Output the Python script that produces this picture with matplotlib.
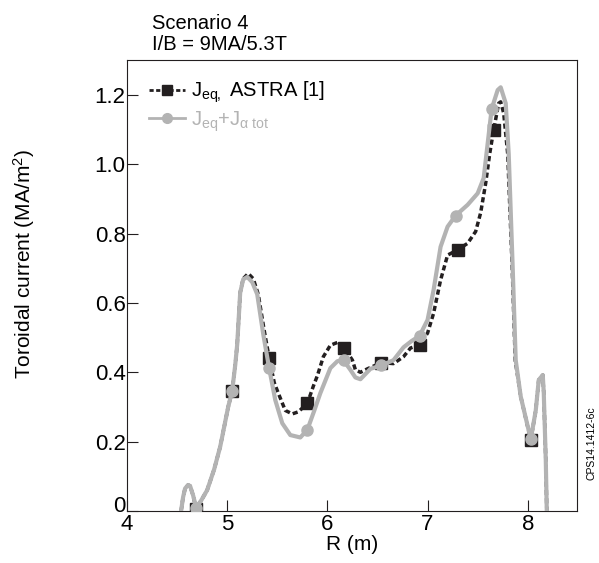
import numpy as np
import matplotlib
matplotlib.use('Agg')
import matplotlib.pyplot as plt
import matplotlib.transforms as mtransforms
from matplotlib.lines import Line2D

plt.rcParams['font.family'] = ['Liberation Sans', 'DejaVu Sans']
plt.rcParams['mathtext.fontset'] = 'custom'
plt.rcParams['mathtext.rm'] = 'Liberation Sans'
plt.rcParams['mathtext.it'] = 'Liberation Sans'
plt.rcParams['mathtext.bf'] = 'Liberation Sans:bold'

# J_eq, ASTRA [1]  (черная штриховая)
r_eq = [4.54, 4.56, 4.58, 4.61, 4.63, 4.66, 4.69, 4.74, 4.80, 4.87, 4.93, 5.01, 5.05,
        5.08, 5.10, 5.13, 5.16, 5.21, 5.26, 5.31, 5.37, 5.42, 5.47, 5.51, 5.58, 5.65,
        5.71, 5.80, 5.86, 5.90, 5.96, 6.03, 6.10, 6.17, 6.25, 6.28, 6.33, 6.40, 6.54,
        6.66, 6.76, 6.83, 6.92, 7.00, 7.06, 7.13, 7.20, 7.30, 7.40, 7.48, 7.53, 7.58,
        7.62, 7.66, 7.71, 7.73, 7.76, 7.80, 7.845, 7.875, 7.93, 8.03, 8.08, 8.11, 8.15,
        8.16, 8.18, 8.19]
j_eq = [0.0, 0.04, 0.065, 0.075, 0.072, 0.045, 0.005, 0.03, 0.06, 0.12, 0.185, 0.30, 0.347,
        0.42, 0.48, 0.63, 0.67, 0.685, 0.67, 0.625, 0.52, 0.44, 0.37, 0.34, 0.29, 0.28,
        0.286, 0.31, 0.36, 0.39, 0.445, 0.478, 0.486, 0.47, 0.435, 0.407, 0.40, 0.41, 0.428,
        0.425, 0.445, 0.47, 0.479, 0.513, 0.57, 0.666, 0.738, 0.753, 0.772, 0.806, 0.86, 0.945,
        1.03, 1.099, 1.176, 1.18, 1.147, 1.03, 0.70, 0.435, 0.33, 0.205, 0.29, 0.378, 0.392,
        0.34, 0.147, 0.0]
r_eq_mk = [4.69, 5.05, 5.42, 5.80, 6.17, 6.54, 6.92, 7.30, 7.66, 8.03]
j_eq_mk = [0.005, 0.347, 0.44, 0.31, 0.47, 0.428, 0.479, 0.753, 1.099, 0.205]

# J_eq + J_alpha tot  (серая)
r_tot = [4.54, 4.56, 4.58, 4.61, 4.63, 4.66, 4.69, 4.74, 4.80, 4.87, 4.93, 5.01, 5.05,
         5.08, 5.10, 5.13, 5.16, 5.20, 5.25, 5.30, 5.36, 5.42, 5.48, 5.55, 5.63, 5.73,
         5.80, 5.87, 5.93, 6.03, 6.10, 6.16, 6.23, 6.28, 6.33, 6.43, 6.54, 6.66, 6.76,
         6.84, 6.92, 7.00, 7.06, 7.13, 7.20, 7.28, 7.40, 7.50, 7.56, 7.60, 7.64, 7.70,
         7.73, 7.78, 7.81, 7.85, 7.88, 7.93, 8.03, 8.08, 8.11, 8.15, 8.16, 8.18, 8.19]
j_tot = [0.0, 0.04, 0.065, 0.075, 0.072, 0.045, 0.01, 0.03, 0.06, 0.12, 0.185, 0.30, 0.347,
         0.42, 0.48, 0.63, 0.668, 0.675, 0.66, 0.625, 0.51, 0.41, 0.32, 0.253, 0.219, 0.212,
         0.234, 0.29, 0.34, 0.412, 0.432, 0.435, 0.407, 0.385, 0.38, 0.41, 0.42, 0.435, 0.472,
         0.49, 0.505, 0.551, 0.637, 0.762, 0.82, 0.852, 0.883, 0.916, 0.96, 1.06, 1.16, 1.214,
         1.222, 1.176, 1.03, 0.70, 0.435, 0.33, 0.207, 0.29, 0.378, 0.392, 0.34, 0.147, 0.0]
r_tot_mk = [4.69, 5.05, 5.42, 5.80, 6.17, 6.54, 6.92, 7.28, 7.64, 8.03]
j_tot_mk = [0.01, 0.347, 0.412, 0.234, 0.435, 0.42, 0.505, 0.852, 1.16, 0.207]

xticks = [4, 5, 6, 7, 8]
yticks = [0, 0.2, 0.4, 0.6, 0.8, 1.0, 1.2]
ytick_labels = ['0', '0.2', '0.4', '0.6', '0.8', '1.0', '1.2']

blk = '#231f20'
gry = '#b3b3b3'

fig = plt.figure(figsize=(5.99, 5.63), dpi=100)
ax = fig.add_axes([0.212, 0.0924, 0.751, 0.8006])

ax.plot(r_eq, j_eq, color=blk, lw=2.5, ls=(0, (1.5, 0.9)), zorder=2)
ax.plot(r_eq_mk, j_eq_mk, 's', color=blk, ms=8.5, zorder=3)
ax.plot(r_tot, j_tot, color=gry, lw=3, solid_joinstyle='round', solid_capstyle='round', zorder=4)
ax.plot(r_tot_mk, j_tot_mk, 'o', color=gry, ms=8, zorder=5)

ax.set_xlim(4, 8.49)
ax.set_ylim(0, 1.3)
ax.set_xticks(xticks)
ax.set_yticks(yticks)
ax.set_yticklabels(ytick_labels)
ax.tick_params(direction='in', length=8, width=0.8, labelsize=16, pad=1, color=blk)
ax.tick_params(axis='x', pad=2)
for s in ax.spines.values():
    s.set_linewidth(0.8)
    s.set_color(blk)

# "0" по y чуть выше, как на оригинале
lbl0 = ax.get_yticklabels()[0]
lbl0.set_transform(lbl0.get_transform() + mtransforms.ScaledTranslation(0, 7 / 100, fig.dpi_scale_trans))

ax.set_xlabel('R (m)', fontsize=15, labelpad=0)
ax.set_ylabel('Toroidal current (MA/m$^2$)', fontsize=15)
ax.yaxis.set_label_coords(-0.2, 0.548)

h1 = Line2D([], [], color=blk, lw=2, ls=(0, (1.5, 0.9)), marker='s', ms=7)
h2 = Line2D([], [], color=gry, lw=2, marker='o', ms=7)
leg = ax.legend([h1, h2], ['J$_{eq,}$ ASTRA [1]', 'J$_{eq}$+J$_{\\alpha\\ tot}$'],
                loc='upper left', bbox_to_anchor=(0.03, 0.975), frameon=False,
                fontsize=14.5, handlelength=1.8, handletextpad=0.3, labelspacing=0.2,
                numpoints=1, borderaxespad=0)
leg.get_texts()[1].set_color(gry)

fig.text(0.254, 0.975, 'Scenario 4\nI/B = 9MA/5.3T', fontsize=14.5, ha='left', va='top',
         linespacing=1.15)
fig.text(0.988, 0.147, 'CPS14.1412-6c', fontsize=7.5, rotation=90, ha='center', va='bottom')

plt.savefig('out.png', dpi=100)
